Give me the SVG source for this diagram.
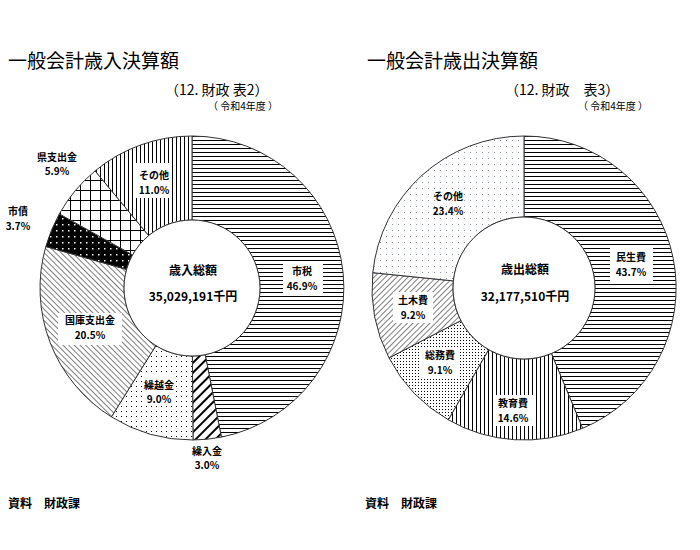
<svg xmlns="http://www.w3.org/2000/svg" width="700" height="550" viewBox="0 0 700 550">
<style>
text{font-family:"Noto Sans CJK JP","Noto Sans",sans-serif;fill:#000}
.t{font-size:19px}
.s{font-size:14px}
.y{font-size:10px}
.l{font-size:10px;font-weight:bold;text-anchor:middle}
.c{font-size:12px;font-weight:bold;text-anchor:middle}
.seg{stroke:#333;stroke-width:1}
.bx{fill:#fff}
</style>
<defs>
<pattern id="hz" width="6" height="4" patternUnits="userSpaceOnUse"><rect width="6" height="4" fill="#fff"/><line x1="0" y1="0.5" x2="6" y2="0.5" stroke="#000" stroke-width="1"/></pattern>
<pattern id="vt" width="4" height="6" patternUnits="userSpaceOnUse"><rect width="4" height="6" fill="#fff"/><line x1="0.5" y1="0" x2="0.5" y2="6" stroke="#000" stroke-width="1"/></pattern>
<pattern id="thick" width="7" height="7" patternUnits="userSpaceOnUse" patternTransform="rotate(45)"><rect width="7" height="7" fill="#fff"/><line x1="0" y1="0" x2="0" y2="7" stroke="#000" stroke-width="4"/></pattern>
<pattern id="bs" width="4" height="4" patternUnits="userSpaceOnUse" patternTransform="rotate(-45)"><rect width="4" height="4" fill="#fff"/><line x1="0" y1="0" x2="0" y2="4" stroke="#000" stroke-width="1"/></pattern>
<pattern id="fs" width="4" height="4" patternUnits="userSpaceOnUse" patternTransform="rotate(45)"><rect width="4" height="4" fill="#fff"/><line x1="0" y1="0" x2="0" y2="4" stroke="#000" stroke-width="1"/></pattern>
<pattern id="dots" width="5" height="5" patternUnits="userSpaceOnUse"><rect width="5" height="5" fill="#fff"/><rect x="1" y="1" width="1" height="1" fill="#000"/></pattern>
<pattern id="ddots" width="3" height="3" patternUnits="userSpaceOnUse"><rect width="3" height="3" fill="#fff"/><rect x="1" y="1" width="1" height="1" fill="#000"/></pattern>
<pattern id="ldots" width="6" height="6" patternUnits="userSpaceOnUse"><rect width="6" height="6" fill="#fff"/><rect x="2" y="2" width="1" height="1" fill="#8890a8"/></pattern>
<pattern id="blk" width="6" height="6" patternUnits="userSpaceOnUse"><rect width="6" height="6" fill="#000"/><rect x="2" y="2" width="1.5" height="1.5" fill="#fff"/></pattern>
<pattern id="grid" width="10" height="10" patternUnits="userSpaceOnUse" patternTransform="rotate(0)"><rect width="10" height="10" fill="#fff"/><path d="M0 0.5H10M0.5 0V10" stroke="#000" stroke-width="1"/></pattern>
</defs>

<text class="t" x="8" y="68">一般会計歳入決算額</text>
<text class="s" x="165" y="95">（12. 財政 表2）</text>
<text class="y" x="208" y="110">（ 令和4年度 ）</text>
<text class="t" x="367" y="68">一般会計歳出決算額</text>
<text class="s" x="505" y="95">（12. 財政　表3）</text>
<text class="y" x="578" y="110">（ 令和4年度 ）</text>

<g id="revenue">
<path class="seg" fill="url(#hz)" d="M192 136 A152 152 0 0 1 221.4 437.1 L205.2 354.7 A68 68 0 0 0 192 220 Z"/>
<path class="seg" fill="url(#thick)" d="M221.4 437.1 A152 152 0 0 1 193 440 L192.4 356 A68 68 0 0 0 205.2 354.7 Z"/>
<path class="seg" fill="url(#dots)" d="M193 440 A152 152 0 0 1 111.4 416.9 L155.9 345.6 A68 68 0 0 0 192.4 356 Z"/>
<path class="seg" fill="url(#bs)" d="M111.4 416.9 A152 152 0 0 1 45.8 246.5 L126.6 269.4 A68 68 0 0 0 155.9 345.6 Z"/>
<path class="seg" fill="url(#blk)" d="M45.8 246.5 A152 152 0 0 1 59.3 213.9 L132.6 254.9 A68 68 0 0 0 126.6 269.4 Z"/>
<path class="seg" fill="url(#grid)" d="M59.3 213.9 A152 152 0 0 1 95.1 170.9 L148.7 235.6 A68 68 0 0 0 132.6 254.9 Z"/>
<path class="seg" fill="url(#vt)" d="M95.1 170.9 A152 152 0 0 1 192 136 L192 220 A68 68 0 0 0 148.7 235.6 Z"/>
<circle cx="192" cy="288" r="68" fill="#fff" stroke="#333"/>
<text class="c" x="193" y="275">歳入総額</text>
<text class="c" x="193" y="301">35,029,191千円</text>
</g>
<g id="rev-labels">
<rect class="bx" x="283" y="262" width="40" height="32"/>
<text class="l" x="302" y="275">市税</text><text class="l" x="302" y="290">46.9%</text>
<rect class="bx" x="135" y="163" width="37" height="35"/>
<text class="l" x="154" y="179">その他</text><text class="l" x="154" y="194">11.0%</text>
<text class="l" x="57" y="161">県支出金</text><text class="l" x="57" y="175">5.9%</text>
<text class="l" x="18" y="215">市債</text><text class="l" x="18" y="230">3.7%</text>
<rect class="bx" x="58" y="313" width="64" height="32"/>
<text class="l" x="90" y="324">国庫支出金</text><text class="l" x="90" y="339">20.5%</text>
<rect class="bx" x="142" y="376" width="34" height="30"/>
<text class="l" x="159" y="389">繰越金</text><text class="l" x="159" y="403">9.0%</text>
<text class="l" x="207" y="455">繰入金</text><text class="l" x="207" y="469">3.0%</text>
</g>

<g id="expenditure">
<path class="seg" fill="url(#hz)" d="M524 136 A152 152 0 0 1 582.6 428.3 L551.4 353.5 A71 71 0 0 0 524 217 Z"/>
<path class="seg" fill="url(#vt)" d="M582.6 428.3 A152 152 0 0 1 448.3 419.8 L488.6 349.6 A71 71 0 0 0 551.4 353.5 Z"/>
<path class="seg" fill="url(#ddots)" d="M448.3 419.8 A152 152 0 0 1 389 357.9 L460.9 320.6 A71 71 0 0 0 488.6 349.6 Z"/>
<path class="seg" fill="url(#fs)" d="M389 357.9 A152 152 0 0 1 372.8 272.7 L453.4 280.9 A71 71 0 0 0 460.9 320.6 Z"/>
<path class="seg" fill="url(#ldots)" d="M372.8 272.7 A152 152 0 0 1 524 136 L524 217 A71 71 0 0 0 453.4 280.9 Z"/>
<circle cx="524" cy="288" r="71" fill="#fff" stroke="#333"/>
<text class="c" x="525" y="274">歳出総額</text>
<text class="c" x="525" y="301">32,177,510千円</text>
</g>
<g id="exp-labels">
<rect class="bx" x="610" y="248" width="43" height="33"/>
<text class="l" x="631" y="261">民生費</text><text class="l" x="631" y="276">43.7%</text>
<text class="l" x="448" y="200">その他</text><text class="l" x="448" y="215">23.4%</text>
<rect class="bx" x="393" y="292" width="40" height="31"/>
<text class="l" x="413" y="304">土木費</text><text class="l" x="413" y="319">9.2%</text>
<rect class="bx" x="420" y="347" width="40" height="30"/>
<text class="l" x="440" y="359">総務費</text><text class="l" x="440" y="374">9.1%</text>
<rect class="bx" x="493" y="395" width="40" height="31"/>
<text class="l" x="513" y="407">教育費</text><text class="l" x="513" y="422">14.6%</text>
</g>

<text x="8" y="508" style="font-size:12px;font-weight:bold">資料　財政課</text>
<text x="365" y="508" style="font-size:12px;font-weight:bold">資料　財政課</text>
</svg>
